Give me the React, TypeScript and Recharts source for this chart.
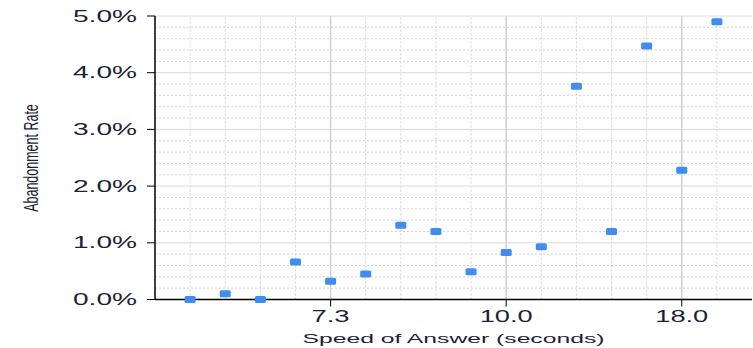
import React from 'react';
import {
  ScatterChart, Scatter, XAxis, YAxis, ReferenceLine,
} from 'recharts';

// 16 buckets of speed of answer; only some carry a label on the axis
const bucketIndex = [1, 2, 3, 4, 5, 6, 7, 8, 9, 10, 11, 12, 13, 14, 15, 16];
const abandonmentRate = [
  0, 0.001, 0, 0.0066, 0.0032, 0.0045, 0.0131, 0.012,
  0.0049, 0.0083, 0.0093, 0.0376, 0.012, 0.0447, 0.0228, 0.049,
];
const xTickPositions = [5, 10, 15];
const xTickLabels = ['7.3', '10.0', '18.0'];
const yTicks = [0, 0.01, 0.02, 0.03, 0.04, 0.05];

// grid
const minorY = [
  0.002, 0.004, 0.006, 0.008, 0.012, 0.014, 0.016, 0.018,
  0.022, 0.024, 0.026, 0.028, 0.032, 0.034, 0.036, 0.038,
  0.042, 0.044, 0.046, 0.048,
];
const majorY = [0.01, 0.02, 0.03, 0.04, 0.05];

const data = bucketIndex.map((x, i) => ({ x, rate: abandonmentRate[i] }));

const FONT = '"Liberation Sans", Arial, sans-serif';
const TEXT = '#1e1e38';
const BLUE = '#3d8ef0';

const YTick = ({ x, y, payload }: any) => (
  <text
    x={x}
    y={y + 5.5}
    textAnchor="end"
    fontFamily={FONT}
    fontSize={16}
    fill={TEXT}
    textLength={64}
    lengthAdjust="spacingAndGlyphs"
  >
    {(payload.value * 100).toFixed(1)}%
  </text>
);

const XTick = ({ x, y, payload }: any) => {
  const label = xTickLabels[xTickPositions.indexOf(payload.value)] ?? '';
  return (
    <text
      x={x}
      y={y + 13.5}
      textAnchor="middle"
      fontFamily={FONT}
      fontSize={16}
      fill={TEXT}
      textLength={label.length > 3 ? 53 : 38}
      lengthAdjust="spacingAndGlyphs"
    >
      {label}
    </text>
  );
};

const XTitle = ({ viewBox }: any) => (
  <text
    x={viewBox.x + viewBox.width / 2}
    y={343}
    textAnchor="middle"
    fontFamily={FONT}
    fontSize={13}
    fill={TEXT}
    textLength={302}
    lengthAdjust="spacingAndGlyphs"
  >
    Speed of Answer (seconds)
  </text>
);

const YTitle = () => (
  <text
    transform="translate(38,158) scale(1.6,1) rotate(-90)"
    textAnchor="middle"
    fontFamily={FONT}
    fontSize={12.5}
    fill={TEXT}
  >
    Abandonment Rate
  </text>
);

const Marker = ({ cx, cy }: any) => (
  <rect x={cx - 5.5} y={cy - 3.5} width={11} height={7} rx={1.5} fill={BLUE} />
);

export default function App() {
  return (
    <div style={{ position: 'absolute', left: 0, top: 0, background: '#fff' }}>
      <ScatterChart width={753} height={348} margin={{ top: 16, right: 1, left: 0, bottom: 0 }}>
        {minorY.map(v => (
          <ReferenceLine key={'my' + v} y={v} stroke="#d4d4d4" strokeDasharray="2 2" />
        ))}
        {bucketIndex.map(v => (
          <ReferenceLine key={'mx' + v} x={v} stroke="#d4d4d4" strokeDasharray="2 2" />
        ))}
        {majorY.map(v => (
          <ReferenceLine key={'Y' + v} y={v} stroke="#dadada" />
        ))}
        {xTickPositions.map(v => (
          <ReferenceLine key={'X' + v} x={v} stroke="#d2d2d2" strokeWidth={1.5} />
        ))}
        <XAxis
          type="number"
          dataKey="x"
          domain={[0, 17]}
          ticks={xTickPositions}
          height={48.5}
          tickSize={7}
          tick={<XTick />}
          axisLine={{ stroke: '#000', strokeWidth: 1.5 }}
          tickLine={{ stroke: '#000' }}
          label={<XTitle />}
        />
        <YAxis
          type="number"
          dataKey="rate"
          domain={[0, 0.05]}
          ticks={yTicks}
          width={155}
          tickSize={8}
          tickMargin={10}
          tick={<YTick />}
          axisLine={{ stroke: '#000', strokeWidth: 1.5 }}
          tickLine={{ stroke: '#000' }}
          label={<YTitle />}
        />
        <Scatter data={data} shape={<Marker />} isAnimationActive={false} />
      </ScatterChart>
    </div>
  );
}
